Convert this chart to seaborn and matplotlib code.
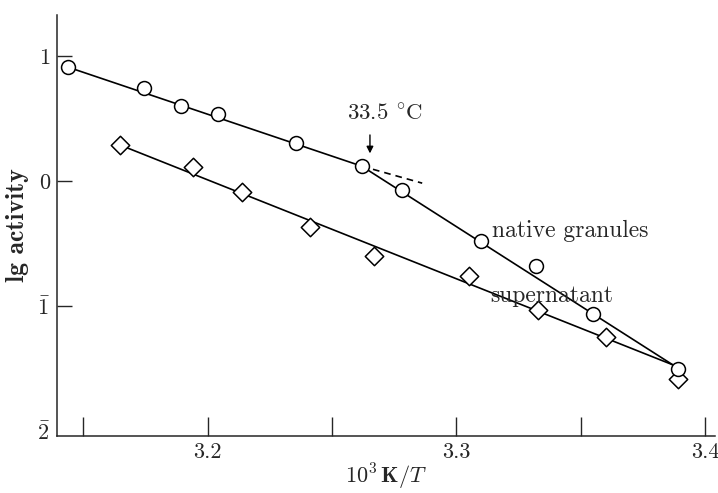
import matplotlib
matplotlib.use("Agg")
import matplotlib.pyplot as plt
import seaborn as sns

# Measured points
native_x = [3.144, 3.1746, 3.1895, 3.2044, 3.2355, 3.262, 3.278, 3.310, 3.332, 3.355, 3.389]
native_y = [0.912, 0.744, 0.600, 0.536, 0.304, 0.120, -0.072, -0.480, -0.680, -1.064, -1.504]
super_x = [3.165, 3.194, 3.214, 3.241, 3.267, 3.305, 3.333, 3.360, 3.389]
super_y = [0.288, 0.112, -0.088, -0.368, -0.600, -0.760, -1.032, -1.248, -1.584]

# Fitted straight lines
native_fit_x = [3.144, 3.262, 3.387]
native_fit_y = [0.912, 0.120, -1.47]
super_fit_x = [3.165, 3.387]
super_fit_y = [0.288, -1.47]
extrap_x = [3.262, 3.2863]
extrap_y = [0.120, -0.016]

xticks = [3.15, 3.2, 3.25, 3.3, 3.35, 3.4]
xticklabels = ["", "3.2", "", "3.3", "", "3.4"]
yticks = [1, 0, -1, -2]
yticklabels = ["1", "0", r"$\bar{1}$", r"$\bar{2}$"]

sns.set_style("ticks")
plt.rcParams["font.family"] = ["cmr10", "DejaVu Serif"]
plt.rcParams["mathtext.fontset"] = "cm"
plt.rcParams["axes.unicode_minus"] = False
plt.rcParams["axes.formatter.use_mathtext"] = True

fig = plt.figure(figsize=(7.18, 4.93), dpi=100)
ax = fig.add_axes([57 / 718, 57 / 493, (715 - 57) / 718, (436 - 15) / 493])

line_kw = dict(ax=ax, color="black", lw=1.2, sort=False)
sns.lineplot(x=native_fit_x, y=native_fit_y, **line_kw)
sns.lineplot(x=super_fit_x, y=super_fit_y, **line_kw)
sns.lineplot(x=extrap_x, y=extrap_y, linestyle=(0, (4, 3)), **line_kw)

sns.scatterplot(x=super_x, y=super_y, ax=ax, marker="D", s=88, facecolor="white",
                edgecolor="black", linewidth=1.1, zorder=3)
sns.scatterplot(x=native_x, y=native_y, ax=ax, marker="o", s=100, facecolor="white",
                edgecolor="black", linewidth=1.1, zorder=4)

ax.set_xlim(3.1395, 3.404)
ax.set_ylim(-2.04, 1.33)
ax.set_xticks(xticks)
ax.set_xticklabels(xticklabels, fontsize=16)
ax.set_yticks(yticks)
ax.set_yticklabels(yticklabels, fontsize=16)
ax.tick_params(axis="x", direction="in", length=14, width=1, pad=5)
ax.tick_params(axis="y", direction="in", length=11, width=1, pad=5)
ax.yaxis.get_major_ticks()[-1].tick1line.set_visible(False)

for side in ("top", "right"):
    ax.spines[side].set_visible(False)
for side in ("left", "bottom"):
    ax.spines[side].set_linewidth(1.1)

ax.set_xlabel(r"$\mathbf{10}^{\mathbf{3}}\,\mathbf{K}/\mathit{T}$", fontsize=16, labelpad=0)
ax.set_ylabel("lg activity", fontsize=18.5, family=["cmb10", "DejaVu Serif"], labelpad=6)

ax.annotate("", xy=(3.2653, 0.200), xytext=(3.2653, 0.392),
            arrowprops=dict(arrowstyle="-|>", color="black", lw=1, mutation_scale=10))
ax.text(3.2562, 0.536, r"33.5 $^{\circ}$C", fontsize=16.5, ha="left", va="center")
ax.text(3.3145, -0.40, "native granules", fontsize=17, ha="left", va="center")
ax.text(3.3137, -0.92, "supernatant", fontsize=17, ha="left", va="center")

fig.savefig("out.png", dpi=100)
